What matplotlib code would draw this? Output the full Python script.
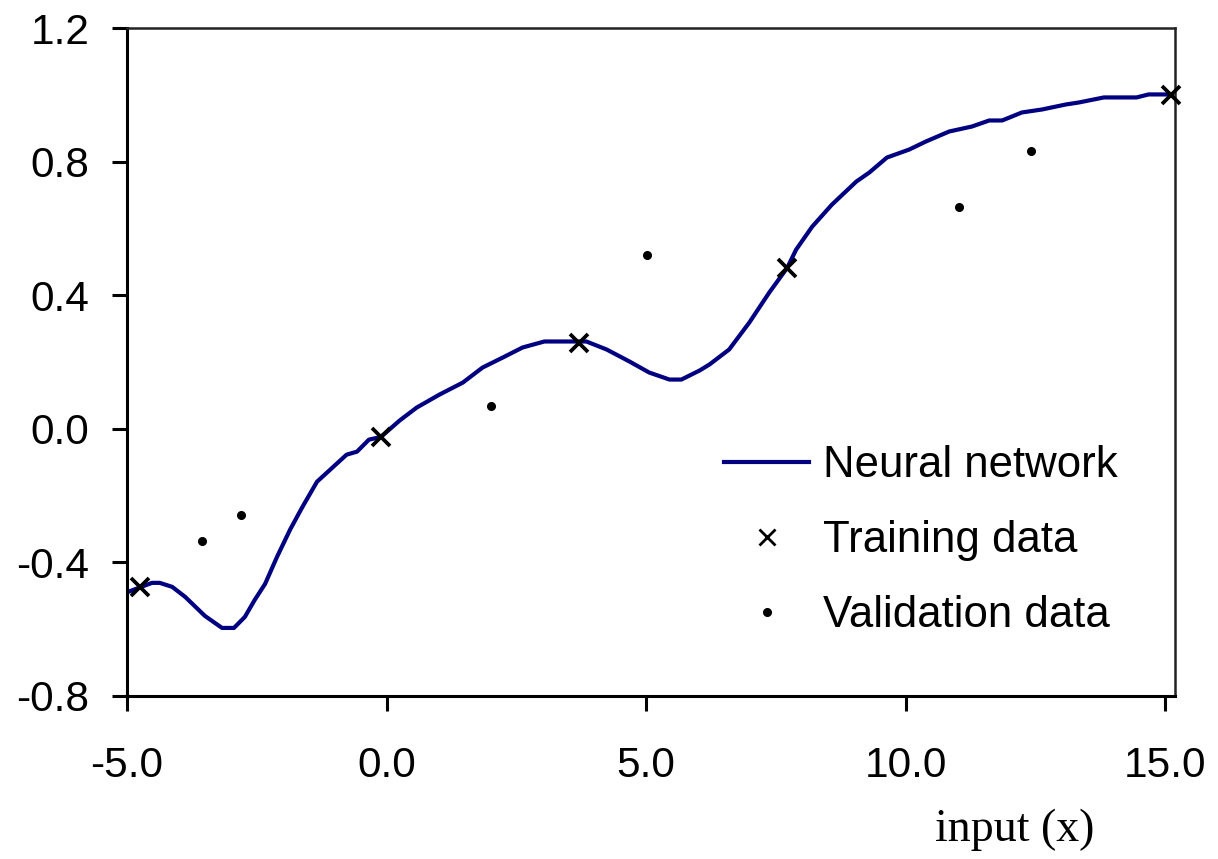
import matplotlib
matplotlib.use("Agg")
import matplotlib.pyplot as plt
from matplotlib.ticker import FormatStrFormatter

# neural network output
nn_x = [-4.98, -4.52, -4.37, -4.13, -3.88, -3.50, -3.17, -2.94, -2.73, -2.54,
        -2.34, -2.11, -1.86, -1.63, -1.34, -1.15, -0.77, -0.57, -0.34, -0.11,
        0.25, 0.58, 1.02, 1.47, 1.85, 2.24, 2.62, 3.04, 3.70, 3.85, 4.24, 4.68,
        5.06, 5.45, 5.68, 6.03, 6.22, 6.60, 6.99, 7.37, 7.72, 7.89, 8.20, 8.58,
        9.05, 9.30, 9.64, 10.07, 10.39, 10.84, 11.28, 11.61, 11.86, 12.24,
        12.63, 13.09, 13.34, 13.82, 14.45, 14.68, 15.11]
nn_y = [-0.489, -0.462, -0.462, -0.474, -0.504, -0.561, -0.597, -0.597, -0.564,
        -0.513, -0.465, -0.384, -0.303, -0.237, -0.159, -0.132, -0.078, -0.069,
        -0.033, -0.025, 0.024, 0.063, 0.102, 0.138, 0.183, 0.213, 0.243, 0.261,
        0.261, 0.261, 0.237, 0.201, 0.168, 0.147, 0.147, 0.174, 0.192, 0.237,
        0.318, 0.407, 0.482, 0.536, 0.605, 0.671, 0.740, 0.767, 0.812, 0.836,
        0.860, 0.890, 0.905, 0.923, 0.923, 0.947, 0.956, 0.971, 0.977, 0.992,
        0.992, 1.001, 1.001]

train_x = [-4.75, -0.11, 3.70, 7.72, 15.11]
train_y = [-0.474, -0.025, 0.257, 0.482, 1.0]

valid_x = [-3.56, -2.81, 2.02, 5.02, 11.03, 12.41]
valid_y = [-0.336, -0.258, 0.069, 0.519, 0.665, 0.833]

x_ticks = [-5, 0, 5, 10, 15]
y_ticks = [-0.8, -0.4, 0.0, 0.4, 0.8, 1.2]

plt.rcParams['font.family'] = ['Liberation Sans', 'DejaVu Sans']

fig = plt.figure(figsize=(12.18, 8.59), dpi=100)
ax = fig.add_axes([0.1043, 0.1901, 0.8604, 0.7773])

ax.plot(nn_x, nn_y, color='#000080', lw=3.0, label='Neural network', zorder=2)
ax.plot(train_x, train_y, ls='none', marker='x', ms=13, mew=2.7,
        color='black', label='Training data', zorder=3, clip_on=False)
ax.plot(valid_x, valid_y, ls='none', marker='o', ms=5.5,
        color='black', label='Validation data', zorder=3)

ax.set_xlim(-5, 15.19)
ax.set_ylim(-0.8, 1.2)
ax.set_xticks(x_ticks)
ax.set_yticks(y_ticks)
ax.xaxis.set_major_formatter(FormatStrFormatter('%.1f'))
ax.yaxis.set_major_formatter(FormatStrFormatter('%.1f'))
ax.tick_params(axis='both', direction='out', length=11, width=2.2,
               labelsize=30.5, color='black')
ax.tick_params(axis='x', pad=25)
ax.tick_params(axis='y', pad=16)

for s in ['left', 'bottom']:
    ax.spines[s].set_linewidth(2.2)
    ax.spines[s].set_color('black')
for s in ['top', 'right']:
    ax.spines[s].set_linewidth(1.8)
    ax.spines[s].set_color('#222222')

fig.text(1015 / 1218, 1 - 830 / 859, 'input (x)', ha='center', va='center',
         fontsize=33, family=['Liberation Serif', 'DejaVu Serif'])

leg = ax.legend(loc='upper left', bbox_to_anchor=(724 / 1218, 1 - 445 / 859),
                bbox_transform=fig.transFigure, frameon=False, fontsize=31.5,
                borderpad=0, borderaxespad=0, handlelength=1.95,
                handletextpad=0.32, labelspacing=0.78)
for h in leg.legend_handles[1:2]:
    h.set_markersize(12)
    h.set_markeredgewidth(2.0)

fig.savefig('out.png', dpi=100)
